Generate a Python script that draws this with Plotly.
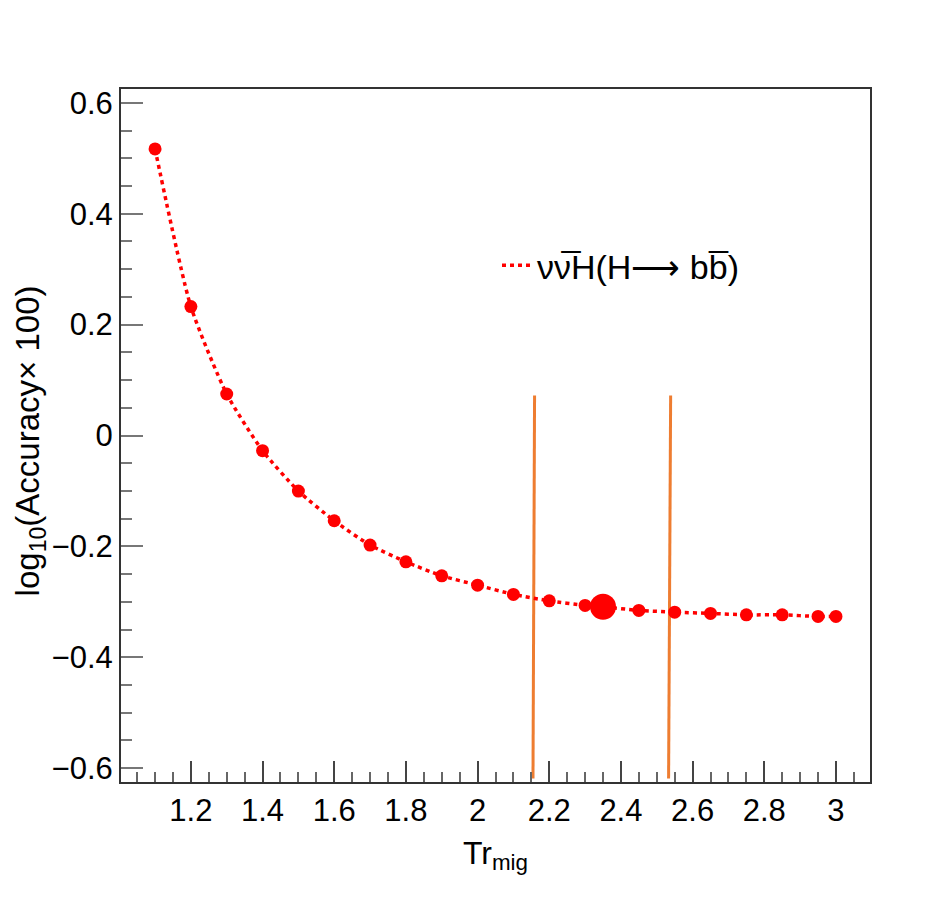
import plotly.graph_objects as go

# ---- data ----
tr_mig = [1.1, 1.2, 1.3, 1.4, 1.5, 1.6, 1.7, 1.8, 1.9, 2.0, 2.1, 2.2, 2.3, 2.35,
          2.45, 2.55, 2.65, 2.75, 2.85, 2.95, 3.0]
log_acc = [0.517, 0.2325, 0.0749, -0.0274, -0.1002, -0.1538, -0.1977, -0.2278,
           -0.2531, -0.2699, -0.2866, -0.2982, -0.3065, -0.309, -0.3155, -0.3186,
           -0.3209, -0.3235, -0.3235, -0.3264, -0.3264]
best_tr = 2.35

# two orange cut lines (x at bottom/top, y at bottom/top)
cut1_x = [2.1546, 2.159]
cut2_x = [2.533, 2.5387]
cut_y = [-0.6185, 0.072]

legend_label = "νν\u0305H(H\u27f6 bb\u0305)"
x_title = "Tr<sub>mig</sub>"
y_title = "log<sub>10</sub>(Accuracy\u00d7 100)"

RED = "#ff0000"
ORANGE = "#ee7d31"
FONT = "Liberation Sans, Arial, Helvetica, sans-serif"

sizes = [26 if abs(x - best_tr) < 1e-9 else 13 for x in tr_mig]

fig = go.Figure()

for cx in (cut1_x, cut2_x):
    fig.add_trace(go.Scatter(x=cx, y=cut_y, mode="lines",
                             line=dict(color=ORANGE, width=3),
                             showlegend=False, hoverinfo="skip"))

fig.add_trace(go.Scatter(x=tr_mig, y=log_acc, mode="lines+markers",
                         line=dict(color=RED, width=3.5, dash="4px,4px", shape="spline", smoothing=0.6),
                         marker=dict(color=RED, size=sizes, opacity=1, line=dict(width=0)),
                         showlegend=False))

# legend-only entry (line sample only, like the original)
fig.add_trace(go.Scatter(x=[None], y=[None], mode="lines", name=legend_label,
                         line=dict(color=RED, width=3.5, dash="4px,4px"),
                         showlegend=True))

fig.update_layout(
    width=936, height=900,
    margin=dict(l=113, r=74, t=81, b=126),
    paper_bgcolor="white", plot_bgcolor="white",
    font=dict(family=FONT, color="black"),
    legend=dict(x=0.502, y=0.745, xanchor="left", yanchor="middle",
                bgcolor="rgba(0,0,0,0)", borderwidth=0,
                font=dict(size=34, family=FONT, color="black")),
    annotations=[dict(text=y_title, xref="paper", yref="paper", x=-0.121, y=0.492,
                      xanchor="center", yanchor="middle", textangle=-90, showarrow=False,
                      font=dict(size=33, family=FONT, color="black"))],
)

fig.update_xaxes(
    range=[1.005, 3.095], showgrid=False, zeroline=False,
    showline=True, linecolor="#333333", linewidth=2, mirror=True,
    ticks="inside", tick0=1.2, dtick=0.2, ticklen=21, tickwidth=2, tickcolor="#444444",
    minor=dict(ticks="inside", dtick=0.05, tick0=1.0, ticklen=10, tickwidth=2, tickcolor="#666666", showgrid=False),
    tickfont=dict(size=31, family=FONT, color="black"),
    ticklabelstandoff=0,
    title=dict(text=x_title, font=dict(size=32, family=FONT, color="black"), standoff=14),
)
fig.update_yaxes(
    range=[-0.625, 0.625], showgrid=False, zeroline=False,
    showline=True, linecolor="#333333", linewidth=2, mirror=True,
    ticks="inside", tick0=0, dtick=0.2, ticklen=22, tickwidth=2, tickcolor="#777777",
    minor=dict(ticks="inside", dtick=0.05, ticklen=11, tickwidth=2, tickcolor="#777777", showgrid=False),
    tickfont=dict(size=31, family=FONT, color="black"),
    ticklabelstandoff=0,
)

fig.write_html("out.html")
